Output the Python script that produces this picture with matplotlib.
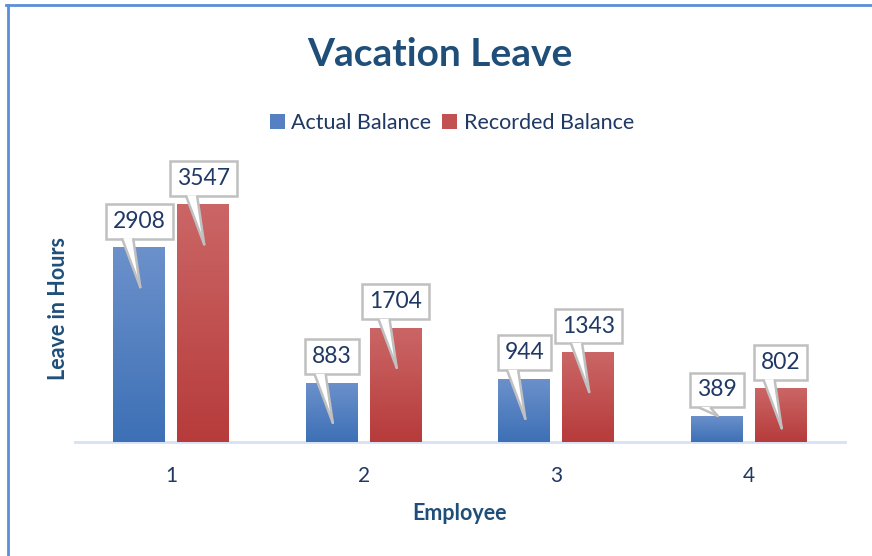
import numpy as np
import matplotlib
matplotlib.use("Agg")
import matplotlib.pyplot as plt
from matplotlib.patches import Polygon, Patch
from matplotlib.lines import Line2D
from matplotlib.transforms import ScaledTranslation, IdentityTransform
from matplotlib.colors import LinearSegmentedColormap

plt.rcParams['font.family'] = ['Lato', 'DejaVu Sans']

categories = ["1", "2", "3", "4"]
series_names = ["Actual Balance", "Recorded Balance"]
actual = [2908, 883, 944, 389]
recorded = [3547, 1704, 1343, 802]

title = "Vacation Leave"
xlabel = "Employee"
ylabel = "Leave in Hours"

DPI = 100
fig = plt.figure(figsize=(8.72, 5.56), dpi=DPI)
W, H = 872, 556
ax = fig.add_axes([75 / W, (H - 442) / H, 770 / W, 268 / H])
ax.set_xlim(-0.5, len(categories) - 0.5)
ax.set_ylim(0, 4000)
for s in ax.spines.values():
    s.set_visible(False)
ax.set_yticks([])
ax.set_xticks(range(len(categories)))
ax.set_xticklabels(categories)
ax.tick_params(axis='x', length=0, pad=17, labelsize=15, labelcolor='#1F3864')
ax.axhline(0, color='#D6E1F3', lw=2, zorder=1, clip_on=False)

txt_col = '#1F3864'
title_col = '#1F4E79'

blue_cmap = LinearSegmentedColormap.from_list('b', ['#3D70B6', '#6C91CB'])
red_cmap = LinearSegmentedColormap.from_list('r', ['#B73B3B', '#CB6666'])

bw = 0.27
off = 0.166
x = np.arange(len(categories))
grad = np.linspace(0, 1, 256).reshape(-1, 1)

def draw_bars(xs, vals, cmap):
    bars = ax.bar(xs, vals, width=bw, color='none', edgecolor='none', zorder=2)
    for b in bars:
        x0, y0 = b.get_x(), b.get_y()
        w, h = b.get_width(), b.get_height()
        im = ax.imshow(grad, cmap=cmap, origin='lower', aspect='auto',
                       extent=[x0, x0 + w, y0, y0 + h], zorder=2,
                       interpolation='bilinear')
        im.set_clip_path(b)
    return bars

draw_bars(x - off, actual, blue_cmap)
draw_bars(x + off, recorded, red_cmap)

def callout(xc, v):
    gap = 7
    boxh = 38
    ax.annotate(str(v), xy=(xc, v), xycoords='data',
                xytext=(0, (gap + boxh / 2) * 72 / DPI), textcoords='offset points',
                ha='center', va='center', fontsize=16.5, color=txt_col, zorder=5,
                bbox=dict(boxstyle='square,pad=0.3', fc='white', ec='#C0C0C0', lw=1.8))
    tip = -40 if v > 500 else 0
    tr = IdentityTransform() + ScaledTranslation(xc, v, ax.transData)
    pts = [(-17, gap + 2), (-6, gap + 2), (1, tip)]
    poly = Polygon(pts, closed=True, fc='white', ec='none', transform=tr, zorder=6)
    ax.add_patch(poly)
    for p in [(-17, gap + 1), (-6, gap + 1)]:
        ax.add_line(Line2D([p[0], 1], [p[1], tip], color='#C0C0C0', lw=1.8,
                           transform=tr, zorder=7, solid_capstyle='round'))

for i in range(len(categories)):
    callout(x[i] - off, actual[i])
    callout(x[i] + off, recorded[i])

fig.text(440 / W, 1 - 54 / H, title, ha='center', va='center', fontsize=28,
         fontweight='bold', color=title_col)
fig.text(460 / W, 1 - 513 / H, xlabel, ha='center', va='center', fontsize=15.5,
         fontweight='bold', color=title_col)
fig.text(58 / W, 1 - 308 / H, ylabel, ha='center', va='center', fontsize=15.5,
         fontweight='bold', color=title_col, rotation=90)

handles = [Patch(facecolor='#5581C2', edgecolor='none'),
           Patch(facecolor='#C25252', edgecolor='none')]
fig.legend(handles, series_names, loc='center', bbox_to_anchor=(452 / W, 1 - 123 / H),
           ncol=2, frameon=False, fontsize=15.5, handlelength=0.7, handleheight=0.7,
           handletextpad=0.3, columnspacing=0.5, labelcolor=txt_col)

# outer chart border (top and left visible)
fig.add_artist(Line2D([6 / W, 1], [1 - 5 / H, 1 - 5 / H], color='#5B8ED6', lw=2,
                      transform=fig.transFigure))
fig.add_artist(Line2D([8 / W, 8 / W], [0, 1 - 5 / H], color='#5B8ED6', lw=2,
                      transform=fig.transFigure))

fig.savefig('out.png', dpi=DPI)
